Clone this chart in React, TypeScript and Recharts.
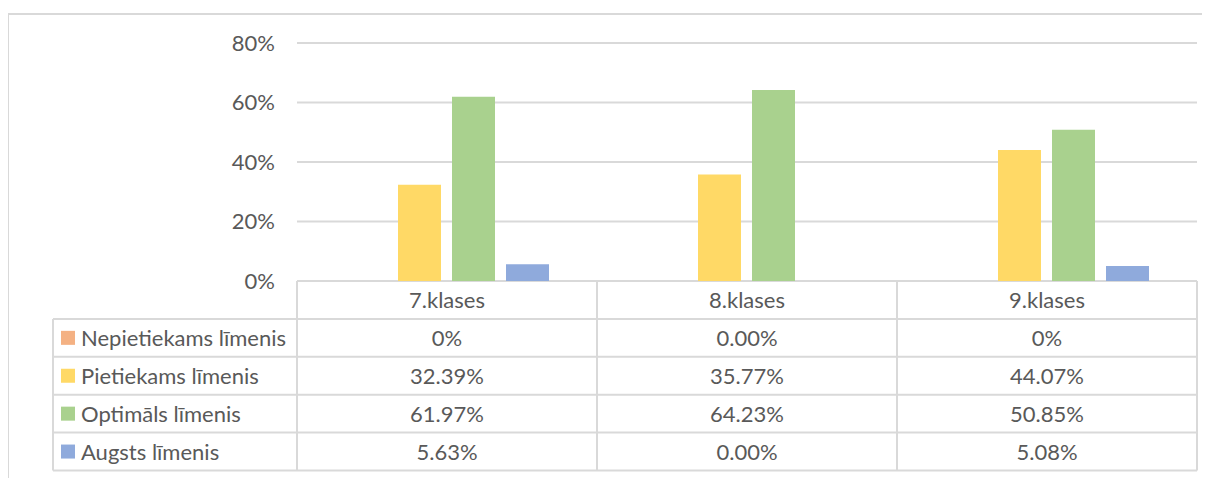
import React from "react";
import { Bar, BarChart, CartesianGrid, XAxis, YAxis } from "recharts";

// categories and series, values as shown in the data table
const categories = ["7.klases", "8.klases", "9.klases"];
const seriesNames = [
	"Nepietiekams līmenis",
	"Pietiekams līmenis",
	"Optimāls līmenis",
	"Augsts līmenis",
];
const seriesColors = ["#F4B183", "#FFD966", "#A9D18E", "#8FAADC"];
const nepietiekams = ["0", "0.00", "0"];
const pietiekams = ["32.39", "35.77", "44.07"];
const optimals = ["61.97", "64.23", "50.85"];
const augsts = ["5.63", "0.00", "5.08"];
const yTicks = [0, 20, 40, 60, 80];

const series = [nepietiekams, pietiekams, optimals, augsts];
const keys = ["s0", "s1", "s2", "s3"];

const data = categories.map((cat, i) => {
	const row: Record<string, string | number> = { cat };
	series.forEach((s, j) => {
		row[keys[j]] = parseFloat(s[i]);
	});
	return row;
});

const FONT = "Lato";
const TEXT = "#595959";
const LINE = "#D9D9D9";
const COL_W = 300;
const ROW_H = 37.9;
const LEGEND_W = 244;

// draws one column of the data table under each category
function TableTick(props: any) {
	const { x, y, payload, index } = props;
	const left = x - COL_W / 2;
	const right = x + COL_W / 2;
	const bottom = y + ROW_H * 5;
	const textProps = {
		fill: TEXT,
		fontSize: 22,
		fontFamily: FONT,
		dominantBaseline: "central" as const,
	};
	return (
		<g>
			<line x1={left} x2={left} y1={y} y2={bottom} stroke={LINE} strokeWidth={2} />
			<line x1={right} x2={right} y1={y} y2={bottom} stroke={LINE} strokeWidth={2} />
			{[1, 2, 3, 4, 5].map((k) => (
				<line
					key={k}
					x1={index === 0 ? left - LEGEND_W : left}
					x2={right}
					y1={y + ROW_H * k}
					y2={y + ROW_H * k}
					stroke={LINE}
					strokeWidth={2}
				/>
			))}
			<text x={x} y={y + ROW_H / 2} textAnchor="middle" {...textProps}>
				{payload.value}
			</text>
			{series.map((s, j) => (
				<text key={j} x={x} y={y + ROW_H * (j + 1.5)} textAnchor="middle" {...textProps}>
					{s[index]}%
				</text>
			))}
			{index === 0 && (
				<g>
					<line
						x1={left - LEGEND_W}
						x2={left - LEGEND_W}
						y1={y + ROW_H}
						y2={bottom}
						stroke={LINE}
						strokeWidth={2}
					/>
					{seriesNames.map((name, j) => (
						<g key={name}>
							<rect
								x={left - LEGEND_W + 8}
								y={y + ROW_H * (j + 1.5) - 7}
								width={14}
								height={14}
								fill={seriesColors[j]}
							/>
							<text x={left - LEGEND_W + 28} y={y + ROW_H * (j + 1.5)} textAnchor="start" {...textProps}>
								{name}
							</text>
						</g>
					))}
				</g>
			)}
		</g>
	);
}

export default function App() {
	return (
		<div style={{ position: "relative", width: 1202, height: 470, overflow: "hidden" }}>
			<style>{"html,body{overflow:hidden}"}</style>
			<div
				style={{
					position: "absolute",
					left: -1,
					top: 5,
					width: 1240,
					height: 520,
					border: `2px solid ${LINE}`,
					boxSizing: "border-box",
				}}
			/>
			<div style={{ position: "absolute", left: 0, top: 0 }}>
				<BarChart
					width={1202}
					height={470}
					data={data}
					margin={{ top: 35, right: 13, left: 229, bottom: 7 }}
					barCategoryGap={47}
					barGap={11}
				>
					<CartesianGrid vertical={false} stroke={LINE} strokeWidth={2} />
					<XAxis
						dataKey="cat"
						height={190}
						axisLine={false}
						tickLine={false}
						tickSize={0}
						tickMargin={0}
						interval={0}
						tick={<TableTick />}
					/>
					<YAxis
						width={60}
						domain={[0, 80]}
						ticks={yTicks}
						tickFormatter={(v) => `${v}%`}
						axisLine={false}
						tickLine={false}
						tickSize={0}
						tickMargin={22}
						tick={{ fill: TEXT, fontSize: 22, fontFamily: FONT }}
					/>
					{keys.map((k, j) => (
						<Bar key={k} dataKey={k} name={seriesNames[j]} fill={seriesColors[j]} isAnimationActive={false} />
					))}
				</BarChart>
			</div>
		</div>
	);
}
